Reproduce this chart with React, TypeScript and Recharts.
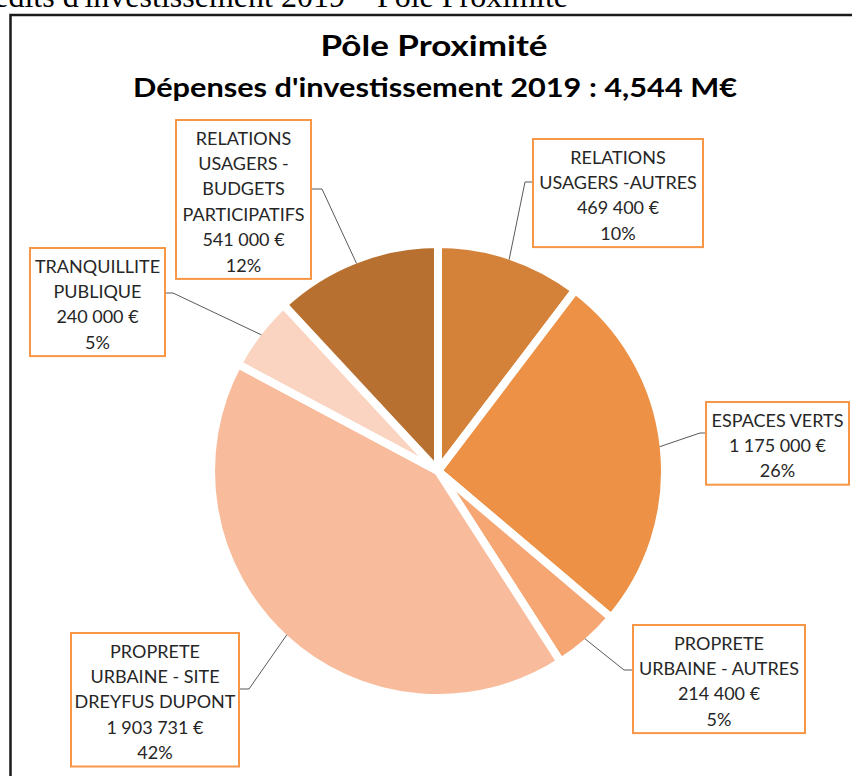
import React from "react";
import { PieChart, Pie, Cell } from "recharts";

const pageCaption = "Crédits d'investissement 2019 – Pôle Proximité";
const chartTitle = "Pôle Proximité";
const chartSubtitle = "Dépenses d'investissement 2019 : 4,544 M€";

const categories = [
  "RELATIONS USAGERS -AUTRES",
  "ESPACES VERTS",
  "PROPRETE URBAINE - AUTRES",
  "PROPRETE URBAINE - SITE DREYFUS DUPONT",
  "TRANQUILLITE PUBLIQUE",
  "RELATIONS USAGERS - BUDGETS PARTICIPATIFS",
];
const values = [469400, 1175000, 214400, 1903731, 240000, 541000];
const labelLines = [
  ["RELATIONS", "USAGERS -AUTRES"],
  ["ESPACES VERTS"],
  ["PROPRETE", "URBAINE - AUTRES"],
  ["PROPRETE", "URBAINE - SITE", "DREYFUS DUPONT"],
  ["TRANQUILLITE", "PUBLIQUE"],
  ["RELATIONS", "USAGERS -", "BUDGETS", "PARTICIPATIFS"],
];

// styling / layout (not data)
const colors = ["#D4813A", "#EC9145", "#F5A672", "#F8BC9C", "#FAD4C0", "#B7702F"];
const labelBoxes = [
  { x: 533, y: 139, w: 170, side: "left", elbowX: 525, ey: 182 },
  { x: 706, y: 402, w: 143, side: "left", elbowX: 700, ey: 433 },
  { x: 633, y: 625, w: 172, side: "left", elbowX: 624, ey: 670 },
  { x: 71, y: 633, w: 168, side: "right", elbowX: 249, ey: 689 },
  { x: 30, y: 248, w: 135, side: "right", elbowX: 173, ey: 293 },
  { x: 176, y: 120, w: 135, side: "right", elbowX: 322, ey: 189 },
];

const total = values.reduce((a, b) => a + b, 0);
const data = categories.map((name, i) => ({ name, value: values[i] }));

const fmtEuro = (v: number) =>
  String(v).replace(/\B(?=(\d{3})+(?!\d))/g, "\u202F") + "\u00A0€";

const LABEL_FONT = "Lato, 'Open Sans', sans-serif";

const renderLabel = (props: any) => {
  const { cx, cy, midAngle, outerRadius, index } = props;
  const RAD = Math.PI / 180;
  const r = outerRadius - 4;
  const px = cx + r * Math.cos(-midAngle * RAD);
  const py = cy + r * Math.sin(-midAngle * RAD);
  const b = labelBoxes[index];
  const lines = [
    ...labelLines[index],
    fmtEuro(values[index]),
    Math.round((values[index] / total) * 100) + "%",
  ];
  const h = lines.length * 25.4 + 6.5;
  const edgeX = b.side === "left" ? b.x : b.x + b.w;
  return (
    <g key={`lbl-${index}`}>
      <polyline
        points={`${edgeX},${b.ey} ${b.elbowX},${b.ey} ${px},${py}`}
        fill="none"
        stroke="#595959"
        strokeWidth={1}
      />
      <rect x={b.x} y={b.y} width={b.w} height={h} fill="#fff" stroke="#F79646" strokeWidth={2} />
      <text
        textAnchor="middle"
        fontFamily={LABEL_FONT}
        fontSize={18}
        fill="#262626"
      >
        {lines.map((l, i) => (
          <tspan key={i} x={b.x + b.w / 2} y={b.y + 17.5 + i * 25.4} dominantBaseline="central">
            {l}
          </tspan>
        ))}
      </text>
    </g>
  );
};

export default function App() {
  return (
    <div
      style={{
        position: "absolute",
        left: 0,
        top: 0,
        width: 852,
        height: 776,
        overflow: "hidden",
        background: "#fff",
      }}
    >
      <svg width={852} height={776} style={{ position: "absolute", left: 0, top: 0 }}>
        <text
          x={568}
          y={7}
          textAnchor="end"
          fontFamily="'Liberation Serif', 'Times New Roman', serif"
          fontSize={32}
          fill="#000"
        >
          {pageCaption}
        </text>
        <rect x={10.5} y={15} width={900} height={900} fill="#fff" stroke="#1a1a1a" strokeWidth={2.5} />
        <text
          x={434}
          y={56}
          textAnchor="middle"
          fontFamily="Lato, sans-serif"
          fontWeight={700}
          fontSize={28}
          fill="#000"
          textLength={227}
          lengthAdjust="spacingAndGlyphs"
        >
          {chartTitle}
        </text>
        <text
          x={435}
          y={97}
          textAnchor="middle"
          fontFamily="Lato, sans-serif"
          fontWeight={700}
          fontSize={27}
          fill="#000"
          textLength={604}
          lengthAdjust="spacingAndGlyphs"
        >
          {chartSubtitle}
        </text>
      </svg>
      <div style={{ position: "absolute", left: 0, top: 0 }}>
        <PieChart width={852} height={776} margin={{ top: 0, right: 0, bottom: 0, left: 0 }}>
          <Pie
            data={data}
            dataKey="value"
            nameKey="name"
            cx={438}
            cy={471}
            outerRadius={227}
            startAngle={90}
            endAngle={-270}
            stroke="#fff"
            strokeWidth={8}
            label={renderLabel}
            labelLine={false}
            isAnimationActive={false}
          >
            {data.map((d, i) => (
              <Cell key={d.name} fill={colors[i]} />
            ))}
          </Pie>
        </PieChart>
      </div>
    </div>
  );
}
